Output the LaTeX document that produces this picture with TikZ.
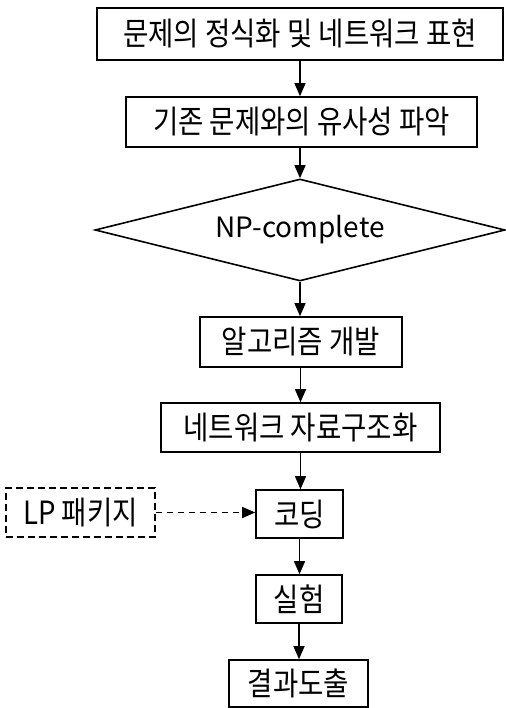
\documentclass[tikz,border=0pt]{standalone}
\usepackage{fontspec}
\setmainfont{Noto Sans CJK KR}
\newfontfamily\kr[FakeStretch=0.86]{Noto Sans CJK KR}
\usetikzlibrary{shapes.geometric,arrows.meta}
\tikzset{
  box/.style={draw, line width=1.6pt, inner sep=0pt, font=\kr\fontsize{32}{32}\selectfont},
  dbox/.style={box, dashed, dash pattern=on 7pt off 4pt},
  dec/.style={draw, diamond, line width=1.6pt, inner sep=0pt, aspect=4.1, minimum width=410pt, minimum height=102pt, font=\fontsize{28}{28}\selectfont},
  arr/.style={line width=1.3pt, -{Triangle[length=13pt,width=11pt]}},
  darr/.style={arr, dash pattern=on 6pt off 5pt}
}
\begin{document}
\begin{tikzpicture}[x=1pt,y=-1pt]
\useasboundingbox (0,0) rectangle (505,708);
\node[box, minimum width=406pt, minimum height=52pt] (b1) at (300,34) {문제의 정식화 및 네트워크 표현};
\node[box, minimum width=351pt, minimum height=50pt] (b2) at (301.5,122) {기존 문제와의 유사성 파악};
\node[dec] (d) at (300,230) {NP-complete};
\node[box, minimum width=202pt, minimum height=50pt] (b3) at (301,342) {알고리즘 개발};
\node[box, minimum width=279pt, minimum height=49pt] (b4) at (300.5,427.5) {네트워크 자료구조화};
\node[box, minimum width=87pt, minimum height=48pt] (b5) at (299.5,514) {코딩};
\node[box, minimum width=86pt, minimum height=48pt] (b6) at (299,599) {실험};
\node[box, minimum width=139pt, minimum height=47pt] (b7) at (298.5,683.5) {결과도출};
\node[dbox, minimum width=149pt, minimum height=49pt] (lp) at (80.5,512.5) {LP 패키지};
\draw[arr] (b1.south) -- (b1.south |- b2.north);
\draw[arr] (b2.south -| d.north) -- (d.north);
\draw[arr] (d.south) -- (d.south |- b3.north);
\draw[arr] (b3.south -| b4.north) -- (b4.north);
\draw[arr] (b4.south) -- (b4.south |- b5.north);
\draw[arr] (b5.south) -- (b5.south |- b6.north);
\draw[arr] (b6.south) -- (b6.south |- b7.north);
\draw[darr] (lp.east) -- (lp.east -| b5.west);
\end{tikzpicture}
\end{document}
